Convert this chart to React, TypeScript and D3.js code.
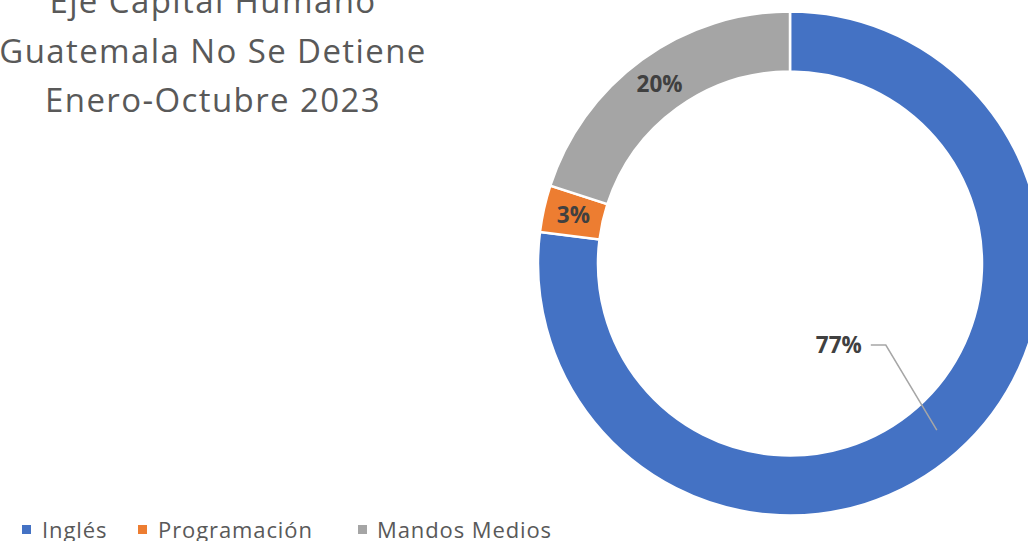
import React, { useEffect, useRef } from "react";
import * as d3 from "d3";

const titleLines = ["Eje Capital Humano", "Guatemala No Se Detiene", "Enero-Octubre 2023"];
const categories = ["Inglés", "Programación", "Mandos Medios"];
const values = [77, 3, 20];
const colors = ["#4472C4", "#ED7D31", "#A5A5A5"];

const W = 1028;
const H = 541;

const App = () => {
  const svgRef = useRef<SVGSVGElement>(null);

  useEffect(() => {
    const svg = d3.select(svgRef.current);
    svg.selectAll("*").remove();

    const font = "'Open Sans', 'Noto Sans', sans-serif";

    // Title
    svg
      .append("g")
      .selectAll("text")
      .data(titleLines)
      .enter()
      .append("text")
      .attr("x", 213)
      .attr("y", (d, i) => 13 + i * 49.5)
      .attr("text-anchor", "middle")
      .attr("font-family", font)
      .attr("font-size", 33)
      .attr("letter-spacing", 1.4)
      .attr("fill", "#595959")
      .text((d) => d);

    // Donut
    const cx = 790;
    const cy = 263.5;
    const outer = 252;
    const inner = 192;

    const data = categories.map((c, i) => ({ category: c, value: values[i], color: colors[i] }));
    const pie = d3
      .pie<any>()
      .sort(null)
      .value((d) => d.value);
    const arc = d3.arc<any>().innerRadius(inner).outerRadius(outer);
    const arcs = pie(data);
    const total = d3.sum(values);

    const g = svg.append("g").attr("transform", `translate(${cx},${cy})`);

    g.selectAll("path")
      .data(arcs)
      .enter()
      .append("path")
      .attr("d", arc)
      .attr("fill", (d) => d.data.color)
      .attr("stroke", "#fff")
      .attr("stroke-width", 2.5);

    // Labels (largest slice label pulled inside with a leader line)
    arcs.forEach((d, i) => {
      const [x, y] = arc.centroid(d);
      const pct = Math.round((d.data.value / total) * 100) + "%";
      if (i === 0) {
        const lx = x - 100;
        const ly = y - 85;
        g.append("polyline")
          .attr("points", `${lx + 34},${ly} ${lx + 49},${ly} ${x},${y}`)
          .attr("fill", "none")
          .attr("stroke", "#A6A6A6")
          .attr("stroke-width", 1.5);
        g.append("text")
          .attr("x", lx + 25)
          .attr("y", ly)
          .attr("dy", "0.35em")
          .attr("text-anchor", "end")
          .attr("font-family", font)
          .attr("font-weight", "bold")
          .attr("font-size", 22.5)
          .attr("fill", "#404040")
          .text(pct);
      } else {
        g.append("text")
          .attr("x", x)
          .attr("y", y)
          .attr("dy", "0.35em")
          .attr("text-anchor", "middle")
          .attr("font-family", font)
          .attr("font-weight", "bold")
          .attr("font-size", 22.5)
          .attr("fill", "#404040")
          .text(pct);
      }
    });

    // Legend
    const legendX = [22, 138, 358];
    const legend = svg
      .append("g")
      .selectAll("g")
      .data(data)
      .enter()
      .append("g")
      .attr("transform", (d, i) => `translate(${legendX[i]},0)`);

    legend
      .append("rect")
      .attr("x", 0)
      .attr("y", 525)
      .attr("width", 9)
      .attr("height", 9)
      .attr("fill", (d) => d.color);

    legend
      .append("text")
      .attr("x", (d, i) => (i === 1 ? 20 : i === 2 ? 19 : 20))
      .attr("y", 538)
      .attr("font-family", font)
      .attr("font-size", 22)
      .attr("letter-spacing", 0.9)
      .attr("fill", "#595959")
      .text((d) => d.category);
  }, []);

  return (
    <svg
      ref={svgRef}
      width={W}
      height={H}
      style={{ position: "absolute", left: 0, top: 0, background: "#fff" }}
    ></svg>
  );
};

export default App;
